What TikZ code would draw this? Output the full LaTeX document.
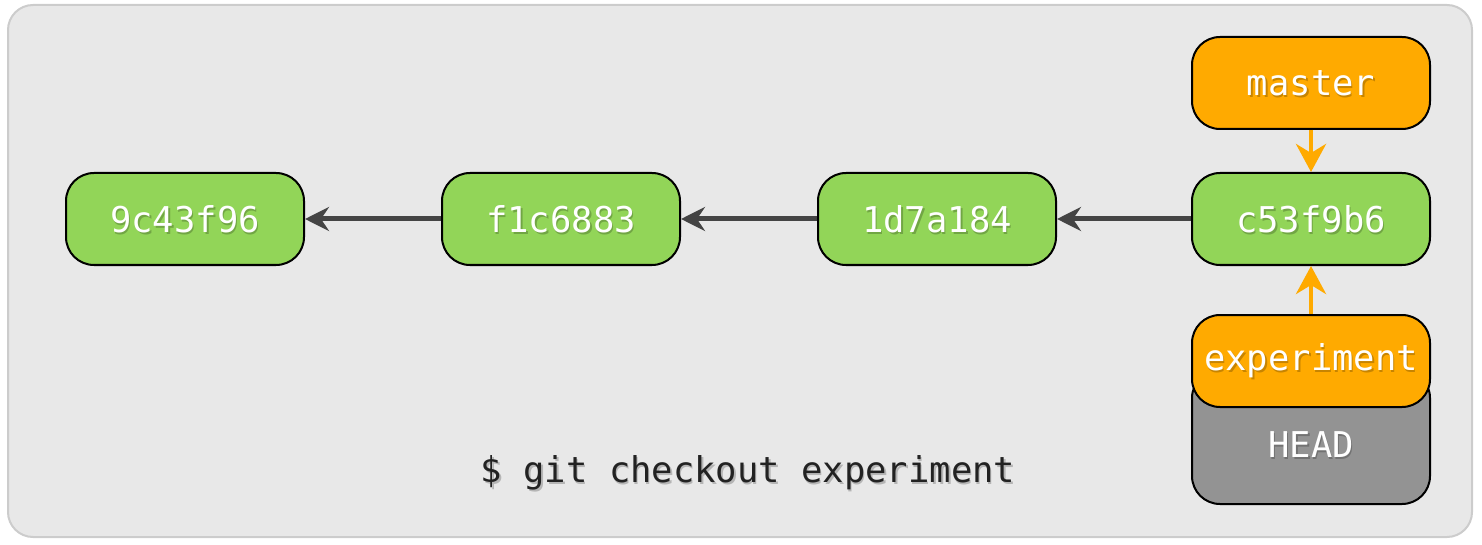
\documentclass[tikz,border=0pt]{standalone}
\usepackage{fontspec}
\setmonofont{DejaVu Sans Mono}
\usetikzlibrary{arrows.meta,positioning}
\definecolor{bgfill}{HTML}{E8E8E8}
\definecolor{bgline}{HTML}{CCCCCC}
\definecolor{commitgreen}{HTML}{92D558}
\definecolor{reforange}{HTML}{FFAA00}
\definecolor{headgray}{HTML}{939393}
\definecolor{arrowgray}{HTML}{444444}
\definecolor{cmdtext}{HTML}{222222}
\tikzset{
  labelfont/.style={font=\fontsize{35.5}{40}\selectfont\ttfamily},
  box/.style={rectangle, rounded corners=28pt, minimum width=238pt, minimum height=92pt,
    draw=black, line width=2pt, inner sep=0pt},
  commit/.style={box, fill=commitgreen},
  ref/.style={box, fill=reforange},
  headbox/.style={box, fill=headgray, minimum height=134pt},
  lbl/.style={labelfont, text=white, inner sep=0pt},
  shadowtxt/.style={labelfont, text=black, opacity=0.22, inner sep=0pt},
  parentarrow/.style={draw=arrowgray, line width=5pt, -{Stealth[length=24pt,width=24pt,inset=8pt]}},
  refarrow/.style={draw=reforange, line width=4.5pt, -{Stealth[length=28pt,width=30pt,inset=9pt]}}
}
\begin{document}
\begin{tikzpicture}[x=1pt,y=-1pt]
\useasboundingbox (0,0) rectangle (1482,545);
\draw[fill=bgfill, draw=bgline, line width=2pt, rounded corners=25pt] (8,5) rectangle (1472,537);

% boxes
\node[headbox] (head) at (1311,437) {};
\node[commit] (c1) at (185,219) {};
\node[commit] (c2) at (561,219) {};
\node[commit] (c3) at (937,219) {};
\node[commit] (c4) at (1311,219) {};
\node[ref] (master) at (1311,83) {};
\node[ref] (experiment) at (1311,361) {};

% text shadows
\foreach \nm/\t/\dy in {c1/9c43f96/0, c2/f1c6883/0, c3/1d7a184/0, c4/c53f9b6/0, master/master/0, experiment/experiment/0}{
  \node[shadowtxt] at ([xshift=1.5pt,yshift=-2pt]\nm.center) {\t};
}
\node[shadowtxt] (headsh) at (1312.5,447) {HEAD};
\node[shadowtxt] (cmdsh) at (749.5,475) {\$ git checkout experiment};

% texts
\node[lbl] (c1t) at (c1.center) {9c43f96};
\node[lbl] (c2t) at (c2.center) {f1c6883};
\node[lbl] (c3t) at (c3.center) {1d7a184};
\node[lbl] (c4t) at (c4.center) {c53f9b6};
\node[lbl] (mastert) at (master.center) {master};
\node[lbl] (experimentt) at (experiment.center) {experiment};
\node[lbl] (headt) at (1311,445) {HEAD};

% arrows
\draw[parentarrow] (c2.west) -- (c1.east);
\draw[parentarrow] (c3.west) -- (c2.east);
\draw[parentarrow] (c4.west) -- (c3.east);
\draw[refarrow] (master.south) -- (c4.north);
\draw[refarrow] (experiment.north) -- (c4.south);

% command
\node[labelfont, text=cmdtext, inner sep=0pt] (cmd) at (748,473) {\$ git checkout experiment};
\end{tikzpicture}
\end{document}
